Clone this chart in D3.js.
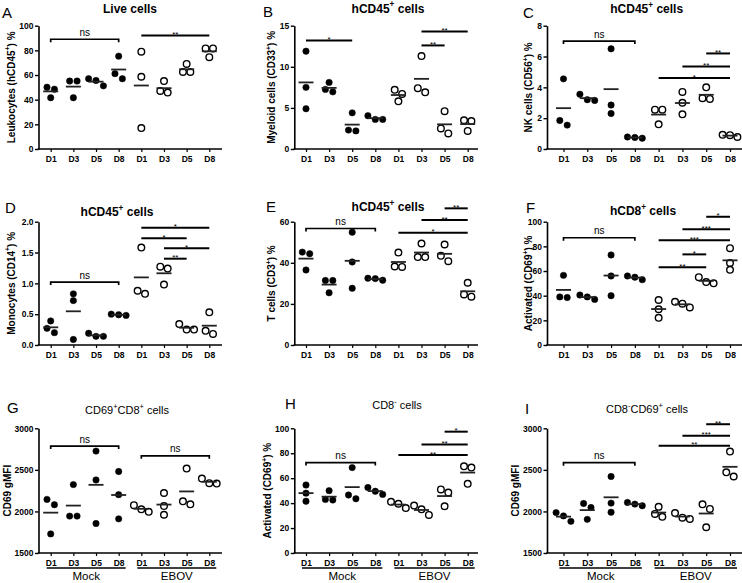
<!DOCTYPE html>
<html><head><meta charset="utf-8">
<script src="https://cdn.jsdelivr.net/npm/d3@7/dist/d3.min.js"></script>
<style>
body{margin:0;background:#fff}
svg{display:block}
text{font-family:"Liberation Sans",Arial,Helvetica,sans-serif}
</style>
</head><body>
<svg id="chart" width="742" height="583"></svg>
<script>
// ---------- DATA ----------
const days = ["D1","D3","D5","D8"];
const groups = ["Mock","EBOV"];

// A: Live cells
const liveMock = [[50.1,48.5,41.6],[55.1,55.1,41.6],[57,55.6,51.2],[75.3,57,61.1]];
const liveEbov = [[78.9,58.6,17],[55.1,45.8,47.1],[69,62.5,62.5],[81.6,81.6,74.5]];
const liveSig = [{from:0,to:3,y:89,label:"ns"},{from:4,to:7,y:92,label:"**"}];
const liveTicks = [0,20,40,60,80,100];

// B: Myeloid cells
const myeloidMock = [[11.9,7.5,4.9],[8.1,6.95,7.25],[4.4,2.2,2.3],[4.05,3.6,3.6]];
const myeloidEbov = [[7.2,6.7,5.8],[11.3,6.9,7.4],[4.6,1.9,2.5],[3.5,3.4,2.2]];
const myeloidSig = [{from:0,to:2,y:13.2,label:"*"},{from:5,to:6,y:12.6,label:"**"},{from:5,to:7,y:14.3,label:"**"}];
const myeloidTicks = [0,5,10,15];

// C: NK cells
const nkMock = [[4.55,1.85,1.55],[3.55,3.15,3.2],[6.5,2.85,2.3],[0.78,0.7,0.75]];
const nkEbov = [[2.55,2.55,1.6],[3.7,3.0,2.25],[4.0,3.25,3.3],[0.9,0.78,0.92]];
const nkSig = [{from:0,to:3,y:7.0,label:"ns"},{from:4,to:7,y:4.6,label:"*"},{from:5,to:7,y:5.35,label:"**"},{from:6,to:7,y:6.2,label:"**"}];
const nkTicks = [0,2,4,6,8];

// D: Monocytes
const monoMock = [[0.39,0.27,0.2],[0.83,0.72,0.09],[0.19,0.14,0.14],[0.5,0.48,0.49]];
const monoEbov = [[1.58,0.83,0.88],[1.27,1.24,0.98],[0.34,0.25,0.25],[0.53,0.18,0.23]];
const monoSig = [{from:0,to:3,y:1.02,label:"ns"},{from:4,to:7,y:1.9,label:"*"},{from:4,to:6,y:1.73,label:"*"},{from:5,to:7,y:1.57,label:"*"},{from:5,to:6,y:1.40,label:"**"}];
const monoTicks = [0,0.5,1.0,1.5,2.0];

// E: T cells
const tMock = [[45.2,44.4,36.5],[31.4,31.4,25.4],[54.9,40.4,27.6],[32.5,31.5,32.3]];
const tEbov = [[45,38,38.2],[49.4,42.8,42.8],[48.9,40.8,43.4],[30.3,23.5,24.6]];
const tSig = [{from:0,to:3,y:56.7,label:"ns"},{from:4,to:7,y:54.6,label:"*"},{from:5,to:7,y:60.8,label:"**"},{from:6,to:7,y:66.5,label:"**"}];
const tTicks = [0,20,40,60];

// F: hCD8+ activated
const cd8ActMock = [[56.5,38.5,39],[40.5,37,39],[73,56,40],[56,53,55]];
const cd8ActEbov = [[36.5,29,22],[35,30.5,33.5],[55,50,51],[78.5,61,66.5]];
const cd8ActSig = [{from:0,to:3,y:87,label:"ns"},{from:4,to:6,y:63,label:"**"},{from:5,to:6,y:73.5,label:"*"},{from:4,to:7,y:85,label:"***"},{from:5,to:7,y:93.8,label:"***"},{from:6,to:7,y:104,label:"*"}];
const pctTicks = [0,20,40,60,80,100];

// G: CD69+CD8+ gMFI
const gmfiPosMock = [[2145,2081,1730],[2323,1944,1944],[2726,2379,1855],[2480,2202,1911]];
const gmfiPosEbov = [[2075,1995,2025],[2222,2065,1960],[2516,2085,2121],[2395,2335,2340]];
const gmfiPosSig = [{from:0,to:3,y:2786,label:"ns"},{from:4,to:7,y:2669,label:"ns"}];
const gmfiTicks = [1500,2000,2500,3000];

// H: CD8- activated
const cd8NegMock = [[54.5,48,41.5],[50,42.5,43],[68.5,43.5,46.5],[52.5,47,49.5]];
const cd8NegEbov = [[41,36,39.5],[38,30.5,35],[51,48.5,37.5],[69.5,68.5,55.5]];
const cd8NegSig = [{from:0,to:3,y:72.5,label:"ns"},{from:4,to:7,y:78.5,label:"**"},{from:5,to:7,y:87,label:"**"},{from:6,to:7,y:97.3,label:"*"}];

// I: CD8-CD69+ gMFI
const gmfiNegMock = [[1881,1986,1946],[2096,2047,1905],[2420,2100,1990],[2108,2068,2088]];
const gmfiNegEbov = [[2055,1935,1970],[1980,1910,1925],[2085,2030,1810],[2720,2420,2470]];
const gmfiNegSig = [{from:0,to:3,y:2587,label:"ns"},{from:4,to:7,y:2789,label:"**"},{from:5,to:7,y:2911,label:"***"},{from:6,to:7,y:3049,label:"**"}];

// ---------- LAYOUT ----------
const cols = [
  {axis:38.5, first:50.7, last:209.3, end:222, ylab:14.5},
  {axis:294.3, first:306, last:467.7, end:478, ylab:275},
  {axis:547, first:563.5, last:730, end:742, ylab:532}
];
const rows = [
  {top:25.7, bottom:149},
  {top:221.7, bottom:345},
  {top:428.3, bottom:553}
];

const panels = [
  {letter:"A", lx:2, ly:18.3, title:"Live cells", tx:130, ty:12.5, bold:true, ylabel:"Leukocytes (hCD45^+^) %", mock:liveMock, ebov:liveEbov, sig:liveSig, ticks:liveTicks, fmt:d3.format("d"), col:0, row:0},
  {letter:"B", lx:263, ly:16.7, title:"hCD45^+^ cells", tx:388, ty:12.5, bold:true, ylabel:"Myeloid cells (CD33^+^) %", mock:myeloidMock, ebov:myeloidEbov, sig:myeloidSig, ticks:myeloidTicks, fmt:d3.format("d"), col:1, row:0},
  {letter:"C", lx:523, ly:18, title:"hCD45^+^ cells", tx:646.7, ty:13, bold:true, ylabel:"NK cells (CD56^+^) %", mock:nkMock, ebov:nkEbov, sig:nkSig, ticks:nkTicks, fmt:d3.format("d"), col:2, row:0},
  {letter:"D", lx:5, ly:213, title:"hCD45^+^ cells", tx:117, ty:216, bold:true, ylabel:"Monocytes (CD14^+^) %", mock:monoMock, ebov:monoEbov, sig:monoSig, ticks:monoTicks, fmt:d3.format(".1f"), col:0, row:1},
  {letter:"E", lx:266, ly:211.7, title:"hCD45^+^ cells", tx:388, ty:211, bold:true, ylabel:"T cells (CD3^+^) %", mock:tMock, ebov:tEbov, sig:tSig, ticks:tTicks, fmt:d3.format("d"), col:1, row:1},
  {letter:"F", lx:526, ly:213, title:"hCD8^+^ cells", tx:643, ty:215, bold:true, ylabel:"Activated (CD69^+^) %", mock:cd8ActMock, ebov:cd8ActEbov, sig:cd8ActSig, ticks:pctTicks, fmt:d3.format("d"), col:2, row:1},
  {letter:"G", lx:7, ly:413, title:"CD69^+^CD8^+^ cells", tx:127, ty:414, bold:false, ylabel:"CD69 gMFI", ylx:10.5, mock:gmfiPosMock, ebov:gmfiPosEbov, sig:gmfiPosSig, ticks:gmfiTicks, fmt:d3.format("d"), col:0, row:2},
  {letter:"H", lx:285, ly:408.5, title:"CD8^-^ cells", tx:397, ty:409, bold:false, ylabel:"Activated (CD69^+^) %", ylx:271, mock:cd8NegMock, ebov:cd8NegEbov, sig:cd8NegSig, ticks:pctTicks, fmt:d3.format("d"), col:1, row:2},
  {letter:"I", lx:525, ly:414, title:"CD8^-^CD69^+^ cells", tx:647, ty:413, bold:false, ylabel:"CD69 gMFI", ylx:519, mock:gmfiNegMock, ebov:gmfiNegEbov, sig:gmfiNegSig, ticks:gmfiTicks, fmt:d3.format("d"), col:2, row:2}
];

const svg = d3.select("#chart");
const FONT = '"Liberation Sans",Arial,Helvetica,sans-serif';

function rich(sel, str, size) {
  const parts = str.split("^");
  const shift = size * 0.42;
  let inSup = false;
  parts.forEach((s, i) => {
    const sup = i % 2 === 1;
    let dy = 0;
    if (sup && !inSup) { dy = -shift; inSup = true; }
    else if (!sup && inSup) { dy = shift; inSup = false; }
    if (!s) return;
    const t = sel.append("tspan").text(s);
    if (dy) t.attr("dy", dy);
    if (sup) t.attr("font-size", size * 0.68);
  });
}

function spread(vals, y) {
  const pts = vals.map(v => ({v, py: y(v)})).sort((a, b) => a.py - b.py);
  const clusters = [];
  let cur = [pts[0]];
  for (let k = 1; k < pts.length; k++) {
    if (pts[k].py - pts[k-1].py < 6.3) cur.push(pts[k]);
    else { clusters.push(cur); cur = [pts[k]]; }
  }
  clusters.push(cur);
  clusters.forEach(c => c.forEach((p, j) => p.dx = (j - (c.length - 1) / 2) * 7.4));
  return pts;
}

const catLabels = groups.flatMap(() => days);

panels.forEach(p => {
  const col = cols[p.col], row = rows[p.row];
  const g = svg.append("g");
  const ext = d3.extent(p.ticks);
  const y = d3.scaleLinear().domain(ext).range([row.bottom, row.top]);
  const x = d3.scaleLinear().domain([0, 7]).range([col.first, col.last]);

  // y axis
  const ya = g.append("g").attr("transform", `translate(${col.axis},0)`)
    .call(d3.axisLeft(y).tickValues(p.ticks).tickFormat(p.fmt).tickSize(3.5).tickSizeOuter(0).tickPadding(1.5));
  ya.select(".domain").attr("stroke", "#000").attr("stroke-width", 1.6);
  ya.selectAll(".tick line").attr("stroke-width", 1.4);
  ya.selectAll("text").attr("font-family", FONT).attr("font-size", 8.5).attr("font-weight", "bold").attr("fill", "#000");

  // x axis
  const xa = g.append("g").attr("transform", `translate(0,${row.bottom})`)
    .call(d3.axisBottom(x).tickValues(d3.range(8)).tickFormat(i => catLabels[i]).tickSize(3).tickPadding(3.5));
  xa.select(".domain").remove();
  xa.selectAll(".tick line").attr("stroke-width", 1.2);
  xa.selectAll("text").attr("font-family", FONT).attr("font-size", 8.5).attr("font-weight", "bold").attr("fill", "#000");
  g.append("line").attr("x1", col.axis - 0.8).attr("x2", col.end).attr("y1", row.bottom).attr("y2", row.bottom)
    .attr("stroke", "#000").attr("stroke-width", 1.6);

  // y label
  const ylx = p.ylx !== undefined ? p.ylx : col.ylab;
  const yl = g.append("text").attr("transform", `translate(${ylx},${(row.top + row.bottom) / 2}) rotate(-90)`)
    .attr("text-anchor", "middle").attr("font-size", 10).attr("font-weight", "bold").attr("font-family", FONT);
  rich(yl, p.ylabel, 10);

  // title & letter
  const tsize = p.bold ? 12 : 11;
  const tt = g.append("text").attr("x", p.tx).attr("y", p.ty).attr("text-anchor", "middle")
    .attr("font-size", tsize).attr("font-weight", p.bold ? "bold" : "normal").attr("font-family", FONT);
  rich(tt, p.title, tsize);
  g.append("text").attr("x", p.lx).attr("y", p.ly).attr("font-size", 15).attr("font-family", FONT).text(p.letter);

  // data
  [p.mock, p.ebov].forEach((series, gi) => {
    series.forEach((vals, di) => {
      const idx = gi * 4 + di;
      const cx = x(idx);
      const pts = spread(vals, y);
      g.selectAll(null).data(pts).enter().append("circle")
        .attr("cx", d => cx + d.dx).attr("cy", d => d.py)
        .attr("r", gi === 0 ? 3.2 : 3.3)
        .attr("fill", gi === 0 ? "#000" : "#fff")
        .attr("stroke", "#000").attr("stroke-width", gi === 0 ? 0.5 : 1.4);
      const m = d3.mean(vals);
      g.append("line").attr("x1", cx - 7.5).attr("x2", cx + 7.5).attr("y1", y(m)).attr("y2", y(m))
        .attr("stroke", "#222").attr("stroke-width", 1.8);
    });
  });

  // significance bars
  p.sig.forEach(s => {
    const yy = y(s.y);
    const x1 = x(s.from), x2 = x(s.to);
    if (s.label === "ns") {
      g.append("path").attr("d", `M${x1},${yy + 3}V${yy}H${x2}V${yy + 3}`)
        .attr("fill", "none").attr("stroke", "#000").attr("stroke-width", 1.7);
      g.append("text").attr("x", (x1 + x2) / 2).attr("y", yy - 3.5).attr("text-anchor", "middle")
        .attr("font-size", 10).attr("font-family", FONT).text(s.label);
    } else {
      g.append("line").attr("x1", x1).attr("x2", x2).attr("y1", yy).attr("y2", yy)
        .attr("stroke", "#000").attr("stroke-width", 2);
      g.append("text").attr("x", (x1 + x2) / 2).attr("y", yy + 1.5).attr("text-anchor", "middle")
        .attr("font-size", 8).attr("font-family", FONT).text(s.label);
    }
  });

  // group lines (bottom row)
  if (p.row === 2) {
    const ly = 568;
    groups.forEach((gn, gi) => {
      const xa0 = x(gi * 4) - 4, xa1 = x(gi * 4 + 3) + 7;
      g.append("line").attr("x1", xa0).attr("x2", xa1).attr("y1", ly).attr("y2", ly)
        .attr("stroke", "#000").attr("stroke-width", 1.3);
      g.append("text").attr("x", (xa0 + xa1) / 2).attr("y", 579.5).attr("text-anchor", "middle")
        .attr("font-size", 11.5).attr("font-family", FONT).text(gn);
    });
  }
});
</script>
</body></html>
